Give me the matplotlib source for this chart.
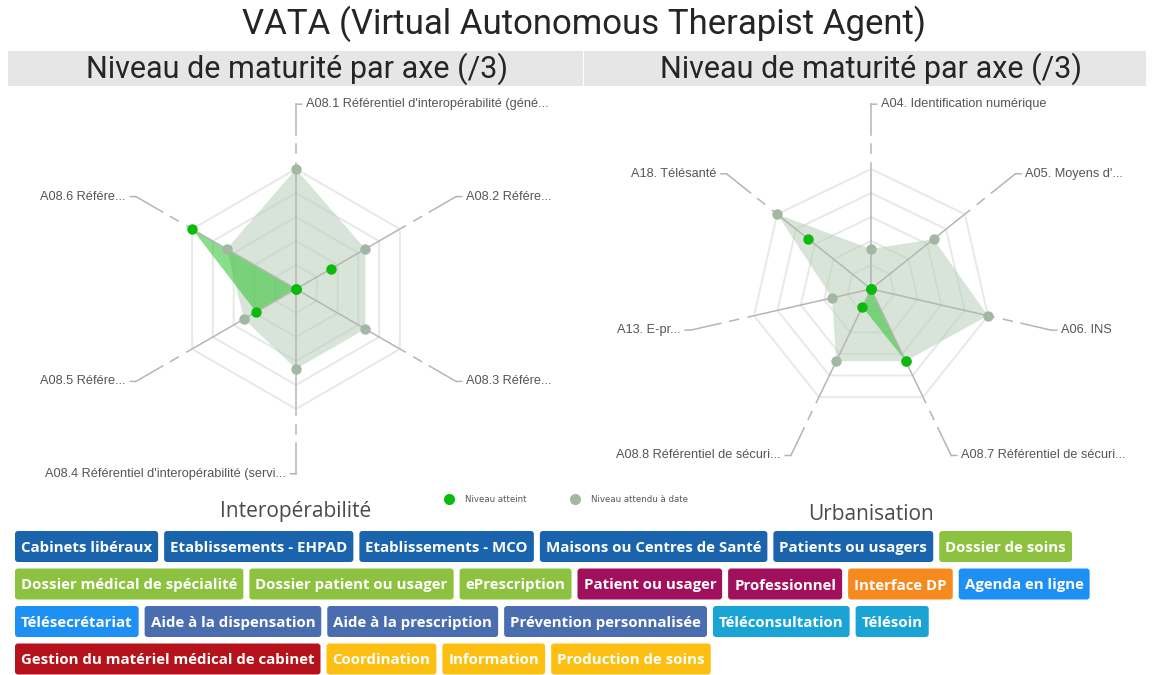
import numpy as np
import matplotlib.pyplot as plt
from matplotlib.patches import FancyBboxPatch, Rectangle
from matplotlib.lines import Line2D

W, H = 1153, 675

left_axes = ["A08.1 Référentiel d'interopérabilité (géné...", "A08.2 Référe...", "A08.3 Référe...",
             "A08.4 Référentiel d'interopérabilité (servi...", "A08.5 Référe...", "A08.6 Référe..."]
left_atteint = [0, 1, 0, 0, 1.15, 3]
left_attendu = [3, 2, 2, 2, 1.5, 2]

right_axes = ["A04. Identification numérique", "A05. Moyens d'...", "A06. INS",
              "A08.7 Référentiel de sécuri...", "A08.8 Référentiel de sécuri...", "A13. E-pr...",
              "A18. Télésanté"]
right_atteint = [0, 0, 0, 2, 0.5, 0, 2]
right_attendu = [1, 2, 3, 2, 2, 1, 3]

tags = ["Cabinets libéraux", "Etablissements - EHPAD", "Etablissements - MCO", "Maisons ou Centres de Santé",
        "Patients ou usagers", "Dossier de soins", "Dossier médical de spécialité", "Dossier patient ou usager",
        "ePrescription", "Patient ou usager", "Professionnel", "Interface DP", "Agenda en ligne",
        "Télésecrétariat", "Aide à la dispensation", "Aide à la prescription", "Prévention personnalisée",
        "Téléconsultation", "Télésoin", "Gestion du matériel médical de cabinet", "Coordination",
        "Information", "Production de soins"]
tag_colors = ["#1a64ad"] * 5 + ["#8cc23f"] * 4 + ["#a0105c"] * 2 + ["#f68a1f", "#1e8ff3", "#1e8ff3"] + \
             ["#4a6db0"] * 3 + ["#1aa4d6"] * 2 + ["#b5121b"] + ["#fdc012"] * 3

GREEN = "#0cba0c"
GREY = "#a3b8a3"
LINE = "#b5b5b5"

fig = plt.figure(figsize=(W / 100, H / 100), dpi=100)
bg = fig.add_axes([0, 0, 1, 1])
bg.set_xlim(0, W)
bg.set_ylim(H, 0)
bg.axis("off")


def radar(cx, cy, labels, atteint, attendu):
    R = 120
    ax = fig.add_axes([(cx - R) / W, (H - cy - R) / H, 2 * R / W, 2 * R / H], projection="polar")
    ax.set_theta_zero_location("N")
    ax.set_theta_direction(-1)
    ax.set_ylim(0, 3)
    ax.set_xticks([])
    ax.set_yticks([])
    ax.grid(False)
    ax.spines["polar"].set_visible(False)
    ax.patch.set_alpha(0)

    n = len(labels)
    theta = np.linspace(0, 2 * np.pi, n, endpoint=False)
    tc = np.append(theta, theta[0])
    for lvl in np.linspace(0.6, 3, 5):
        ax.plot(tc, [lvl] * (n + 1), color="#e8e8e8", lw=1.4, zorder=1)

    for t, lab in zip(theta, labels):
        ax.plot([t, t], [0, 3.15], color=LINE, lw=1.1, zorder=4, clip_on=False)
        ax.plot([t, t], [3.4, 3.62], color=LINE, lw=1.1, clip_on=False)
        ax.plot([t, t], [3.85, 4.62], color=LINE, lw=1.1, clip_on=False)
        deg = np.degrees(t) % 360
        side = 1 if deg < 179.9 else -1
        ax.annotate(lab, xy=(t, 4.62), xytext=(side * 10, 0), textcoords="offset pixels",
                    ha="left" if side > 0 else "right", va="center", fontsize=9.2, color="#555555",
                    family="Liberation Sans", annotation_clip=False,
                    arrowprops=dict(arrowstyle="-", color=LINE, lw=1.1, shrinkA=1, shrinkB=0,
                                    relpos=(0 if side > 0 else 1, 0.5)))

    ax.fill(tc, np.append(attendu, attendu[0]), color="#b7cfb7", alpha=0.55, lw=0, zorder=2)
    ax.fill(tc, np.append(atteint, atteint[0]), color="#36c636", alpha=0.58, lw=0, zorder=3)
    ax.plot(theta, attendu, "o", ms=7.5, color=GREY, mec="none", zorder=5, clip_on=False)
    ax.plot(theta, atteint, "o", ms=7.5, color=GREEN, mec="none", zorder=6, clip_on=False)


# titles and banners
bg.text(584, 24, "VATA (Virtual Autonomous Therapist Agent)", ha="center", va="center",
        fontsize=25, color="#252525", family="Roboto")
bg.add_patch(Rectangle((8, 51), 575, 35, fc="#e6e6e6", ec="none"))
bg.add_patch(Rectangle((584, 51), 562, 35, fc="#e6e6e6", ec="none"))
bg.text(297, 69, "Niveau de maturité par axe (/3)", ha="center", va="center", fontsize=22,
        color="#252525", family="Roboto")
bg.text(871, 69, "Niveau de maturité par axe (/3)", ha="center", va="center", fontsize=22,
        color="#252525", family="Roboto")

radar(296, 289, left_axes, left_atteint, left_attendu)
radar(871, 289, right_axes, right_atteint, right_attendu)

bg.text(296, 512, "Interopérabilité", ha="center", va="center", fontsize=15, color="#4a4a4a",
        family="Open Sans")
bg.text(871, 515, "Urbanisation", ha="center", va="center", fontsize=15, color="#4a4a4a",
        family="Open Sans")

handles = [Line2D([], [], marker="o", ls="", color=GREEN, ms=8, mec="none", label="Niveau atteint"),
           Line2D([], [], marker="o", ls="", color=GREY, ms=8, mec="none", label="Niveau attendu à date")]
fig.legend(handles=handles, loc="center", bbox_to_anchor=(564 / W, 1 - 500 / H), ncol=2, frameon=False,
           fontsize=6.2, handletextpad=0.85, columnspacing=4.6, labelcolor="#555555")

# tag boxes, flowed left to right
renderer = fig.canvas.get_renderer()
x, y = 15, 531
row_h, row_step, gap, pad = 31, 37.5, 6, 6
for label, color in zip(tags, tag_colors):
    t = bg.text(0, 0, label, ha="center", va="center_baseline", fontsize=10.8, fontweight="bold",
                color="white", family="Open Sans", zorder=3)
    w = t.get_window_extent(renderer).width + 2 * pad
    if x + w > 1145:
        x = 15
        y += row_step
    t.set_position((x + w / 2, y + row_h / 2))
    bg.add_patch(FancyBboxPatch((x, y), w, row_h, boxstyle="round,pad=0,rounding_size=3",
                                fc=color, ec="none", zorder=2))
    x += w + gap

fig.savefig("out.png", dpi=100)
